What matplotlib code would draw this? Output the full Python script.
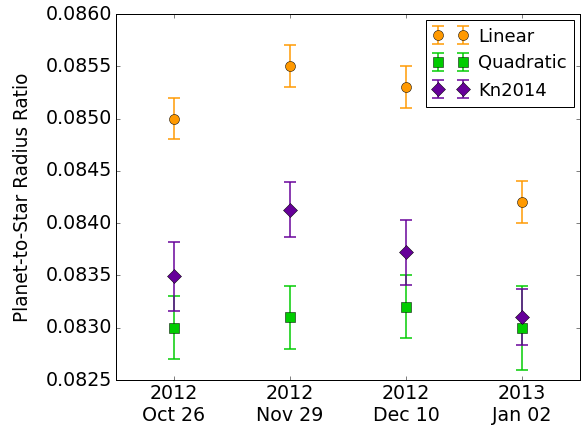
import numpy as np
import matplotlib
matplotlib.use("Agg")
import matplotlib.pyplot as plt

# observation dates
dates = ["2012\nOct 26", "2012\nNov 29", "2012\nDec 10", "2013\nJan 02"]

linear = [0.0850, 0.0855, 0.0853, 0.0842]
linear_err = [0.0002, 0.0002, 0.0002, 0.0002]

quadratic = [0.0830, 0.0831, 0.0832, 0.0830]
quadratic_err = [0.0003, 0.0003, 0.0003, 0.0004]

kn2014 = [0.08349, 0.08413, 0.08372, 0.08310]
kn2014_err = [0.00033, 0.00026, 0.00031, 0.00027]

plt.style.use("classic")
plt.rcParams["font.family"] = ["DejaVu Sans"]
plt.rcParams["font.size"] = 19

fig = plt.figure(figsize=(581 / 72, 433 / 72), dpi=72, facecolor="white")
ax = fig.add_axes([116 / 581, 53 / 433, 464 / 581, 366 / 433])

x = np.arange(len(dates))
series = [
    (linear, linear_err, "o", "#FF9900", "Linear"),
    (quadratic, quadratic_err, "s", "#00CC00", "Quadratic"),
    (kn2014, kn2014_err, "D", "#660099", "Kn2014"),
]
for vals, errs, mk, col, lab in series:
    ax.errorbar(x, vals, yerr=errs, fmt=mk, color=col, ecolor=col,
                mfc=col, mec="black", ms=10, capsize=6, elinewidth=1.5,
                capthick=1.5, label=lab)

ax.set_xlim(-0.5, 3.5)
ax.set_ylim(0.0825, 0.0860)
ax.set_xticks(x)
ax.set_xticklabels(dates)
ax.set_yticks(np.arange(0.0825, 0.08601, 0.0005))
ax.yaxis.set_major_formatter(matplotlib.ticker.FormatStrFormatter("%.4f"))
ax.set_ylabel("Planet-to-Star Radius Ratio", fontsize=18.5, labelpad=13)
ax.tick_params(labelsize=19)

leg = ax.legend(loc="upper right", numpoints=2, fontsize=18, fancybox=False,
                borderaxespad=0.35, handletextpad=0.5)
leg.get_frame().set_edgecolor("black")

fig.savefig("out.png", dpi=72, facecolor="white")
